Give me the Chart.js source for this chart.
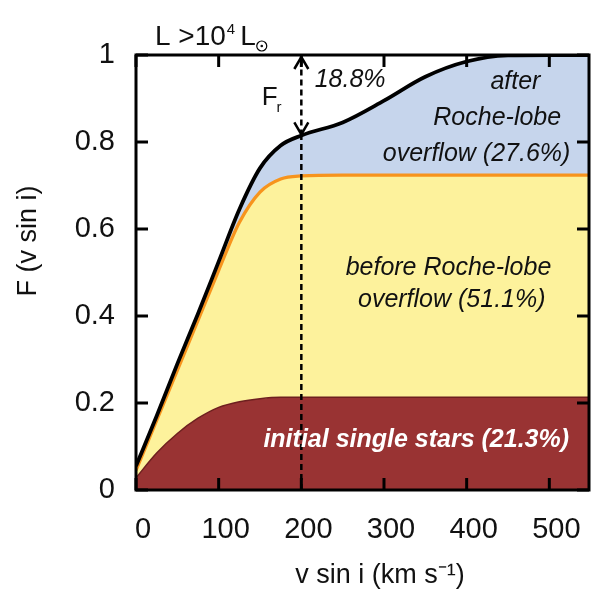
<!DOCTYPE html>
<html>
<head>
<meta charset="utf-8">
<script src="https://cdn.jsdelivr.net/npm/chart.js@4.4.1/dist/chart.umd.min.js"></script>
<style>
  html,body{margin:0;padding:0;background:#fff;}
  #wrap{width:592px;height:592px;}
</style>
</head>
<body>
<div id="wrap"><canvas id="c" width="592" height="592"></canvas></div>
<script>
// v sin i grid (km/s)
const vsini = [0, 25, 50, 75, 100, 125, 150, 175, 200, 250, 300, 350, 400, 450, 500, 550];
// cumulative fractions
const totalF  = [0.055, 0.17, 0.29, 0.405, 0.525, 0.645, 0.74, 0.792, 0.815, 0.845, 0.895, 0.95, 0.985, 0.999, 1.0, 1.0];
const beforeF = [0.045, 0.16, 0.275, 0.39, 0.505, 0.615, 0.685, 0.715, 0.722, 0.724, 0.724, 0.724, 0.724, 0.724, 0.724, 0.724];
const singleF = [0.028, 0.085, 0.13, 0.165, 0.19, 0.203, 0.21, 0.213, 0.213, 0.213, 0.213, 0.213, 0.213, 0.213, 0.213, 0.213];
const xTicks = [0, 100, 200, 300, 400, 500];
const yTicks = [0, 0.2, 0.4, 0.6, 0.8, 1];
const markV = 200;          // dashed line
const arrowF = [0.815, 1];  // F_r arrow span

const pts = ys => vsini.map((v,i)=>({x:v, y:ys[i]}));
const FONT = '"Liberation Sans", Arial, Helvetica, sans-serif';

const frame = {
  id:'frame',
  afterDatasetsDraw(chart){
    const {ctx, chartArea:a, scales:{x,y}} = chart;
    ctx.save();
    // dashed vertical line
    const px = x.getPixelForValue(markV);
    ctx.strokeStyle = '#000'; ctx.lineWidth = 2.5; ctx.setLineDash([6,4]);
    ctx.beginPath(); ctx.moveTo(px, y.getPixelForValue(0)); ctx.lineTo(px, y.getPixelForValue(arrowF[0])); ctx.stroke();
    ctx.beginPath(); ctx.moveTo(px, y.getPixelForValue(arrowF[0])); ctx.lineTo(px, y.getPixelForValue(1)); ctx.stroke();
    ctx.setLineDash([]);
    // arrow heads
    const yt = y.getPixelForValue(arrowF[1]) + 2, yb = y.getPixelForValue(arrowF[0]) - 1;
    ctx.fillStyle = '#000';
    ctx.lineWidth = 2.5;
    ctx.beginPath(); ctx.moveTo(px-7, yt+12); ctx.lineTo(px, yt); ctx.lineTo(px+7, yt+12); ctx.stroke();
    ctx.beginPath(); ctx.moveTo(px-7, yb-12); ctx.lineTo(px, yb); ctx.lineTo(px+7, yb-12); ctx.stroke();

    // frame
    ctx.lineWidth = 3;
    ctx.strokeRect(a.left, a.top, a.right-a.left, a.bottom-a.top);
    // inward ticks
    const tl = 12;
    xTicks.forEach(v=>{
      const p = x.getPixelForValue(v);
      ctx.beginPath(); ctx.moveTo(p, a.bottom); ctx.lineTo(p, a.bottom-tl); ctx.stroke();
      ctx.beginPath(); ctx.moveTo(p, a.top); ctx.lineTo(p, a.top+tl); ctx.stroke();
    });
    yTicks.forEach(v=>{
      const p = y.getPixelForValue(v);
      ctx.beginPath(); ctx.moveTo(a.left, p); ctx.lineTo(a.left+tl, p); ctx.stroke();
      ctx.beginPath(); ctx.moveTo(a.right, p); ctx.lineTo(a.right-tl, p); ctx.stroke();
    });

    // annotations
    const T = (txt, v, f, font, color, align) => {
      ctx.font = font; ctx.fillStyle = color || '#111';
      ctx.textAlign = align || 'center'; ctx.textBaseline = 'middle';
      ctx.fillText(txt, x.getPixelForValue(v), y.getPixelForValue(f));
    };
    const it = 'italic 25px ' + FONT;
    T('18.8%', 259, 0.943, it);
    T('after', 459, 0.938, it);
    T('Roche-lobe', 437, 0.855, it);
    T('overflow (27.6%)', 412, 0.772, it);
    T('before Roche-lobe', 378, 0.51, it);
    T('overflow (51.1%)', 382, 0.437, it);
    T('initial single stars (21.3%)', 339, 0.115, 'italic bold 25px ' + FONT, '#fff');

    // F_r
    ctx.fillStyle = '#111'; ctx.textAlign = 'left'; ctx.textBaseline = 'alphabetic';
    ctx.font = '26px ' + FONT;
    ctx.fillText('F', x.getPixelForValue(152), y.getPixelForValue(0.885));
    ctx.font = '15px ' + FONT;
    ctx.fillText('r', x.getPixelForValue(170), y.getPixelForValue(0.868));

    // L > 10^4 Lsun
    ctx.font = '28px ' + FONT; ctx.textAlign = 'left';
    let cx = 155, by = 45;
    ctx.fillText('L >10', cx, by); cx += ctx.measureText('L >10').width + 1;
    ctx.font = '15px ' + FONT; ctx.fillText('4', cx, by - 11); cx += ctx.measureText('4').width + 5;
    ctx.font = '28px ' + FONT; ctx.fillText('L', cx, by); cx += ctx.measureText('L').width + 6;
    ctx.lineWidth = 1.2; ctx.beginPath(); ctx.arc(cx, by + 1, 5, 0, Math.PI*2); ctx.stroke();
    ctx.beginPath(); ctx.arc(cx, by + 1, 1.3, 0, Math.PI*2); ctx.fill();

    // axis titles
    ctx.font = '27px ' + FONT; ctx.textAlign = 'center'; ctx.textBaseline = 'middle';
    ctx.fillText('v sin i (km s\u207B\u00B9)', 380, 576);
    ctx.save(); ctx.translate(29, 241); ctx.rotate(-Math.PI/2);
    ctx.fillText('F (v sin i)', 0, 0); ctx.restore();
    ctx.restore();
  }
};

new Chart(document.getElementById('c'), {
  type:'line',
  data:{ datasets:[
    { label:'initial single stars', data:pts(singleF), borderColor:'#6e1f1f', borderWidth:1.5,
      backgroundColor:'#993333', fill:'origin', pointRadius:0, cubicInterpolationMode:'monotone', order:3 },
    { label:'before Roche-lobe overflow', data:pts(beforeF), borderColor:'#f7941d', borderWidth:3.3,
      backgroundColor:'#fdf29c', fill:'-1', pointRadius:0, cubicInterpolationMode:'monotone', order:2 },
    { label:'after Roche-lobe overflow', data:pts(totalF), borderColor:'#000', borderWidth:3.8,
      backgroundColor:'#c6d5ec', fill:'-1', pointRadius:0, cubicInterpolationMode:'monotone', order:1 }
  ]},
  options:{
    responsive:false, animation:false,
    layout:{ padding:{ top:55, right:3, left:0, bottom:0 } },
    plugins:{ legend:{display:false}, tooltip:{enabled:false}, filler:{ drawTime:'beforeDatasetsDraw' } },
    scales:{
      x:{ type:'linear', min:0, max:548,
        afterBuildTicks: s => { s.ticks = xTicks.map(v=>({value:v})); },
        afterFit: s => { s.height = 102; },
        grid:{ display:false }, border:{ display:false },
        ticks:{ color:'#111', font:{ family:FONT, size:29 }, padding:15, labelOffset:7, maxRotation:0 } },
      y:{ min:0, max:1,
        afterBuildTicks: s => { s.ticks = yTicks.map(v=>({value:v})); },
        afterFit: s => { s.width = 136; },
        grid:{ display:false }, border:{ display:false },
        ticks:{ color:'#111', font:{ family:FONT, size:29 }, padding:13, callback: v => String(v) } }
    }
  },
  plugins:[frame]
});
</script>
</body>
</html>
